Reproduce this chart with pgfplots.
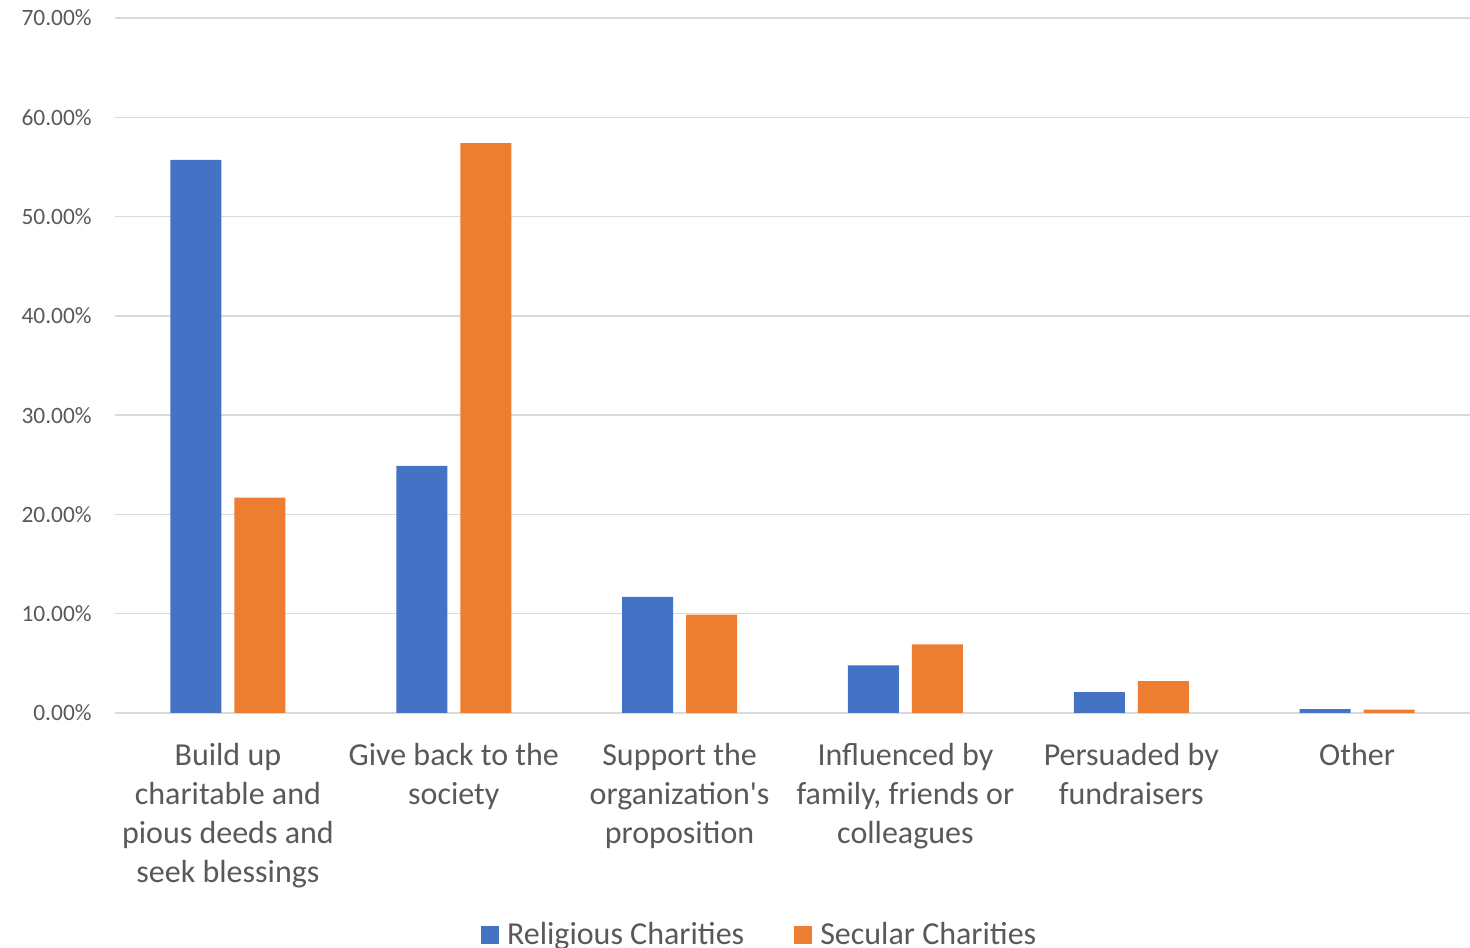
\documentclass[border=0pt]{standalone}
\usepackage{pgfplots}
\pgfplotsset{compat=1.18}
\usepackage{fontspec}
\setmainfont{Carlito}
\definecolor{blueC}{HTML}{4472C4}
\definecolor{orangeC}{HTML}{ED7D31}
\definecolor{gridc}{HTML}{D9D9D9}
\definecolor{txt}{HTML}{595959}
\begin{document}
\begin{tikzpicture}
\begin{axis}[
  scale only axis,
  width=677.5pt, height=347.5pt,
  ybar=6.5pt, bar width=25.5pt,
  xmin=-0.5, xmax=5.5, ymin=0, ymax=70,
  xtick={0,1,2,3,4,5},
  xticklabels={{Build up\\charitable and\\pious deeds and\\seek blessings},
    {Give back to the\\society},
    {Support the\\organization\textquotesingle s\\proposition},
    {Influenced by\\family, friends or\\colleagues},
    {Persuaded by\\fundraisers},
    {Other}},
  xticklabel style={align=center, anchor=north, inner sep=0pt, yshift=-15pt,
    font=\fontsize{16}{19.5}\selectfont, text=txt},
  ytick={0,10,20,30,40,50,60,70},
  yticklabels={0.00\%,10.00\%,20.00\%,30.00\%,40.00\%,50.00\%,60.00\%,70.00\%},
  yticklabel style={anchor=east, inner sep=0pt, xshift=-11.5pt,
    font=\fontsize{11.7}{14}\selectfont, text=txt},
  axis lines=left, axis line style={-},
  x axis line style={draw=gridc, line width=1pt},
  y axis line style={draw=none},
  major tick length=0pt,
  ymajorgrids, grid style={gridc, line width=0.75pt},
  legend columns=2,
  legend style={draw=none, fill=none, at={(0.4765,-0.319)}, anchor=center,
    font=\fontsize{16}{19.5}\selectfont, text=txt,
    /tikz/every even column/.append style={column sep=23pt}},
  legend cell align=left,
  legend image code/.code={\fill[#1] (0pt,-4.5pt) rectangle (9pt,4.5pt); \path (11pt,0pt);},
]
\addplot[fill=blueC, draw=none] coordinates {(0,55.7) (1,24.9) (2,11.7) (3,4.8) (4,2.1) (5,0.4)};
\addplot[fill=orangeC, draw=none] coordinates {(0,21.7) (1,57.4) (2,9.9) (3,6.9) (4,3.2) (5,0.35)};
\legend{Religious Charities, Secular Charities}
\end{axis}
\pgfresetboundingbox
\path[use as bounding box] ([shift={(-57.5pt,-117.5pt)}]current axis.south west) rectangle ([shift={(0pt,9pt)}]current axis.north east);
\end{tikzpicture}
\end{document}
